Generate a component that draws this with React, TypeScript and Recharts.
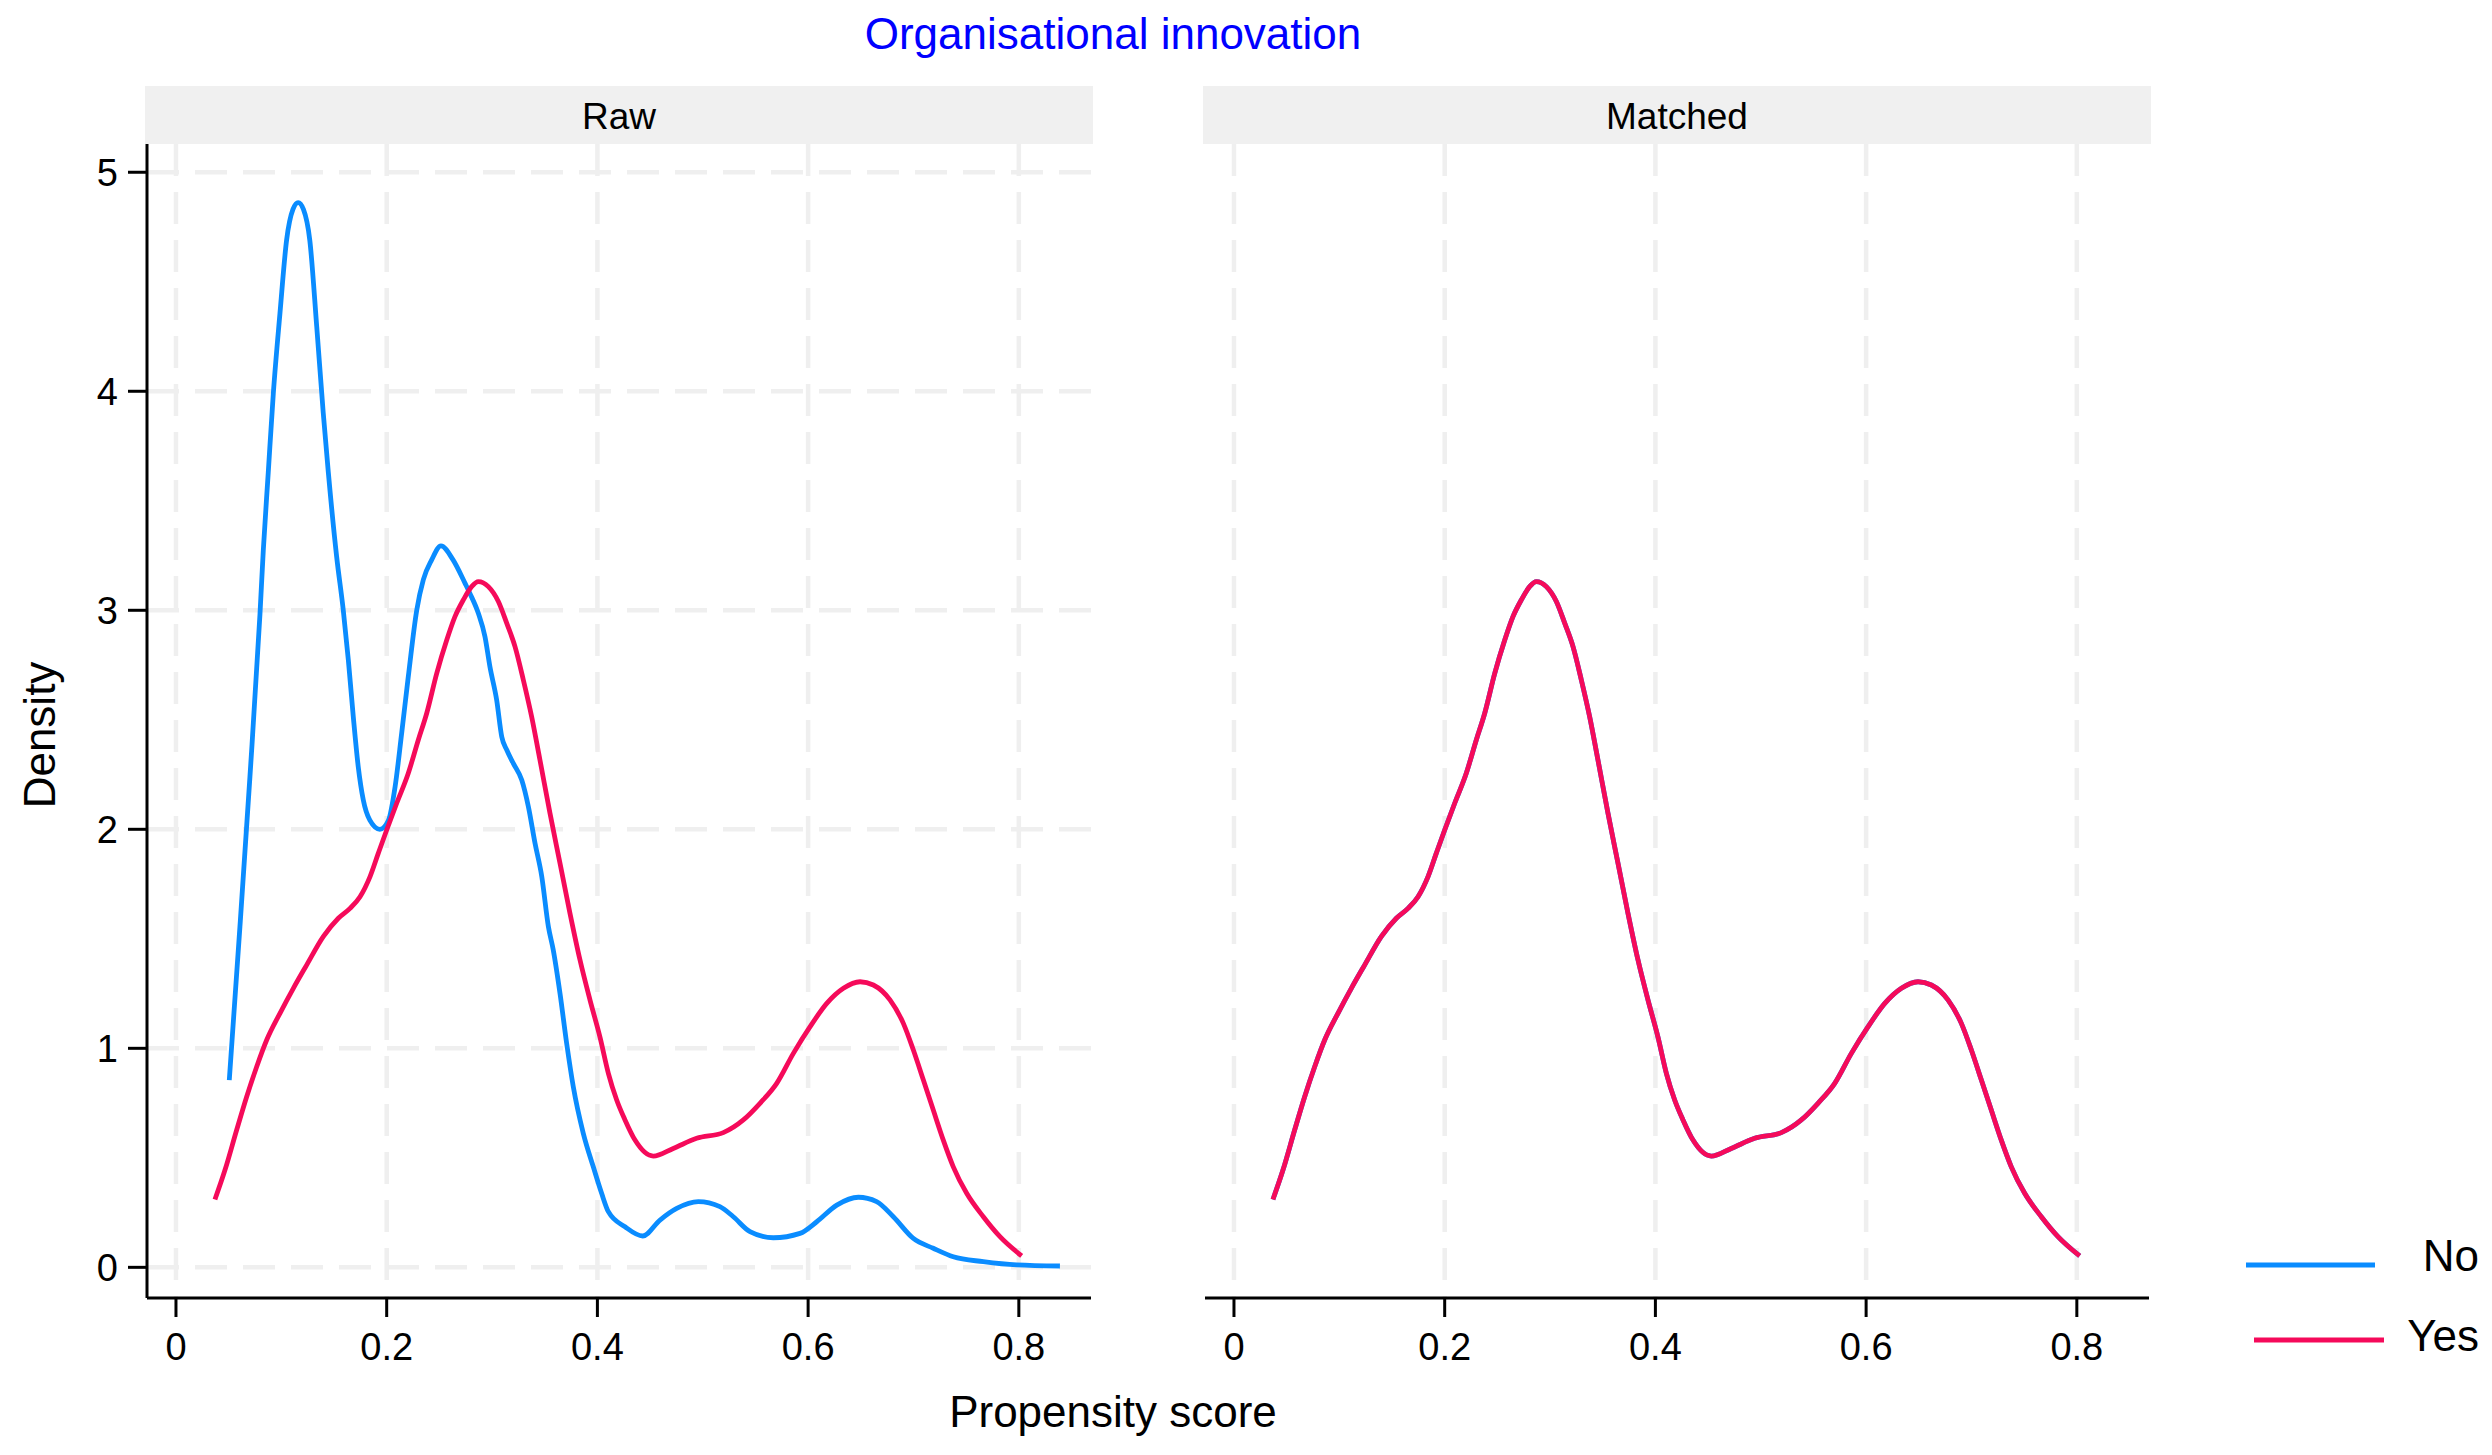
import React from 'react';
import { LineChart, Line, XAxis, YAxis, CartesianGrid } from 'recharts';

// ---------- data ----------
const xTicks = [0, 0.2, 0.4, 0.6, 0.8];
const yTicks = [0, 1, 2, 3, 4, 5];

const panelTitles = ['Raw', 'Matched'];
const chartTitle = 'Organisational innovation';
const xLabel = 'Propensity score';
const yLabel = 'Density';

const seriesNames = ['No', 'Yes'];
const seriesColors = ['#0A8CFF', '#F50A5A'];

// Raw panel, treated = No
const rawNoX = [0.0506, 0.0607, 0.0702, 0.0797, 0.0829, 0.0876, 0.0924, 0.0987, 0.105, 0.111, 0.116, 0.121, 0.127, 0.1336, 0.1398, 0.1446, 0.1525, 0.1588, 0.1636, 0.1683, 0.173, 0.1778, 0.184, 0.1936, 0.2016, 0.208, 0.2142, 0.2205, 0.2285, 0.2348, 0.2427, 0.2515, 0.263, 0.2744, 0.279, 0.287, 0.2933, 0.298, 0.3044, 0.3092, 0.314, 0.3202, 0.3282, 0.3345, 0.3408, 0.3472, 0.3535, 0.3581, 0.3645, 0.3708, 0.3771, 0.3866, 0.3961, 0.404, 0.4104, 0.4262, 0.443, 0.4594, 0.4753, 0.4958, 0.5163, 0.529, 0.5448, 0.567, 0.5923, 0.6082, 0.6272, 0.6477, 0.665, 0.6809, 0.6999, 0.7188, 0.7378, 0.7663, 0.798, 0.839];
const rawNoY = [0.855, 1.555, 2.24, 2.98, 3.275, 3.63, 3.99, 4.356, 4.69, 4.83, 4.861, 4.83, 4.69, 4.295, 3.9, 3.63, 3.245, 3.0, 2.773, 2.514, 2.286, 2.134, 2.042, 2.0, 2.04, 2.195, 2.438, 2.697, 3.0, 3.14, 3.23, 3.294, 3.23, 3.123, 3.077, 2.986, 2.879, 2.742, 2.59, 2.423, 2.362, 2.301, 2.225, 2.103, 1.936, 1.784, 1.555, 1.449, 1.251, 1.023, 0.825, 0.612, 0.459, 0.338, 0.254, 0.185, 0.143, 0.216, 0.269, 0.3, 0.277, 0.231, 0.163, 0.135, 0.155, 0.208, 0.284, 0.32, 0.3, 0.231, 0.132, 0.087, 0.048, 0.026, 0.011, 0.006];

// Raw panel, treated = Yes
const rawYesX = [0.037, 0.0465, 0.0576, 0.0671, 0.0766, 0.0861, 0.0987, 0.1114, 0.124, 0.1398, 0.1541, 0.1652, 0.1747, 0.1842, 0.192, 0.2, 0.2095, 0.2205, 0.23, 0.238, 0.2475, 0.257, 0.2648, 0.2727, 0.2806, 0.287, 0.2965, 0.306, 0.314, 0.3218, 0.3297, 0.3376, 0.3455, 0.355, 0.3645, 0.374, 0.3835, 0.393, 0.4025, 0.4104, 0.4183, 0.4262, 0.4357, 0.453, 0.472, 0.4942, 0.5195, 0.5385, 0.5543, 0.5702, 0.586, 0.6019, 0.6177, 0.6335, 0.6493, 0.6619, 0.6777, 0.6904, 0.6999, 0.7094, 0.7188, 0.7283, 0.7378, 0.7505, 0.7663, 0.7821, 0.8027];
const rawYesY = [0.31, 0.444, 0.627, 0.779, 0.916, 1.038, 1.16, 1.274, 1.38, 1.51, 1.594, 1.639, 1.692, 1.784, 1.89, 1.997, 2.119, 2.256, 2.408, 2.53, 2.712, 2.864, 2.971, 3.047, 3.108, 3.131, 3.108, 3.04, 2.94, 2.834, 2.682, 2.514, 2.316, 2.073, 1.845, 1.616, 1.403, 1.22, 1.05, 0.886, 0.764, 0.673, 0.581, 0.508, 0.543, 0.589, 0.615, 0.673, 0.749, 0.84, 0.977, 1.099, 1.205, 1.274, 1.304, 1.289, 1.221, 1.114, 0.992, 0.855, 0.718, 0.581, 0.459, 0.338, 0.231, 0.14, 0.052];

// Matched panel: both groups coincide with the treated curve
const matchedNoX = rawYesX;
const matchedNoY = rawYesY;
const matchedYesX = rawYesX;
const matchedYesY = rawYesY;

const toPoints = (xs: number[], ys: number[]) => xs.map((x, i) => ({ x, y: ys[i] }));

const panels = [
  { title: panelTitles[0], series: [toPoints(rawNoX, rawNoY), toPoints(rawYesX, rawYesY)] },
  { title: panelTitles[1], series: [toPoints(matchedNoX, matchedNoY), toPoints(matchedYesX, matchedYesY)] },
];

// ---------- styling ----------
const FONT = '"Liberation Sans", Arial, Helvetica, sans-serif';
const X_DOMAIN: [number, number] = [-0.0275, 0.8685];
const Y_DOMAIN: [number, number] = [-0.14, 5.129];
const W = 2492;
const H = 1455;

function Panel({ index }: { index: number }) {
  const p = panels[index];
  const showY = index === 0;
  const left = index === 0 ? 0 : 1100;
  const chartW = 1100;
  const rightMargin = index === 0 ? 9 : 51;
  const yWidth = index === 0 ? 147 : 105;
  return (
    <div style={{ position: 'absolute', left, top: 0 }}>
      <LineChart
        width={chartW}
        height={H}
        margin={{ top: 144, right: rightMargin, bottom: 57, left: 0 }}
      >
        <CartesianGrid
          stroke="#EFEFEF"
          strokeWidth={4.5}
          strokeDasharray="32 16"
          horizontalValues={yTicks}
          verticalValues={xTicks}
        />
        <XAxis
          type="number"
          dataKey="x"
          domain={X_DOMAIN}
          allowDataOverflow
          ticks={xTicks}
          interval={0}
          height={100}
          tickFormatter={(v: number) => String(v)}
          tick={{ fontSize: 38, fill: '#000', fontFamily: FONT }}
          tickSize={19}
          tickMargin={16}
          axisLine={{ stroke: '#000', strokeWidth: 3 }}
          tickLine={{ stroke: '#000', strokeWidth: 3 }}
        />
        <YAxis
          type="number"
          domain={Y_DOMAIN}
          allowDataOverflow
          ticks={yTicks}
          interval={0}
          width={yWidth}
          tick={showY ? { fontSize: 38, fill: '#000', fontFamily: FONT } : false}
          tickSize={19}
          tickMargin={10}
          axisLine={showY ? { stroke: '#000', strokeWidth: 3 } : false}
          tickLine={showY ? { stroke: '#000', strokeWidth: 3 } : false}
        />
        {p.series.map((data, si) => (
          <Line
            key={seriesNames[si]}
            data={data}
            dataKey="y"
            name={seriesNames[si]}
            type="monotone"
            stroke={seriesColors[si]}
            strokeWidth={4.8}
            strokeLinejoin="round"
            dot={false}
            activeDot={false}
            isAnimationActive={false}
          />
        ))}
      </LineChart>
    </div>
  );
}

function Overlay() {
  const strips = [
    { x: 145, w: 948 },
    { x: 1203, w: 948 },
  ];
  return (
    <svg
      width={W}
      height={H}
      style={{ position: 'absolute', left: 0, top: 0, pointerEvents: 'none' }}
      fontFamily={FONT}
    >
      <text x={1113} y={49} fontSize={44} fill="#0000FF" textAnchor="middle">
        {chartTitle}
      </text>
      {strips.map((s, i) => (
        <g key={panelTitles[i]}>
          <rect x={s.x} y={86} width={s.w} height={58} fill="#F0F0F0" />
          <text x={s.x + s.w / 2} y={129} fontSize={37} fill="#000" textAnchor="middle">
            {panelTitles[i]}
          </text>
        </g>
      ))}
      <text x={1113} y={1427} fontSize={44} fill="#000" textAnchor="middle">
        {xLabel}
      </text>
      <text
        transform="translate(55,735) rotate(-90)"
        fontSize={44}
        fill="#000"
        textAnchor="middle"
      >
        {yLabel}
      </text>
      {seriesNames.map((name, i) => (
        <g key={name}>
          <line
            x1={2246 + 8 * i}
            x2={2375 + 9 * i}
            y1={1265 + 75 * i}
            y2={1265 + 75 * i}
            stroke={seriesColors[i]}
            strokeWidth={5}
          />
          <text x={2479} y={1271 + 80 * i} fontSize={44} fill="#000" textAnchor="end">
            {name}
          </text>
        </g>
      ))}
    </svg>
  );
}

export default function App() {
  return (
    <div style={{ position: 'absolute', left: 0, top: 0, width: W, height: H, background: '#fff' }}>
      <Panel index={0} />
      <Panel index={1} />
      <Overlay />
    </div>
  );
}
